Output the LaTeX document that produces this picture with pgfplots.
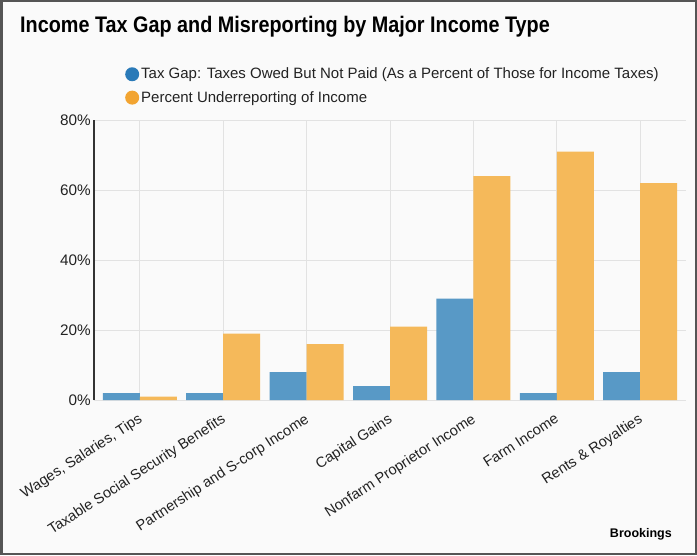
\documentclass[border=0pt]{standalone}
\usepackage{fontspec}
\setmainfont{Liberation Sans}
\newfontfamily\titlefont[FakeStretch=0.88]{Liberation Sans}
\usepackage{pgfplots}
\pgfplotsset{compat=1.18}
\definecolor{bgc}{HTML}{FAFAFA}
\definecolor{framec}{HTML}{555555}
\definecolor{gridc}{HTML}{E2E2E2}
\definecolor{axc}{HTML}{333333}
\definecolor{txtc}{HTML}{222222}
\definecolor{barblue}{HTML}{5899C6}
\definecolor{barorange}{HTML}{F5B95A}
\definecolor{legblue}{HTML}{2A7AB8}
\definecolor{legorange}{HTML}{F2A431}
\begin{document}
\begin{tikzpicture}[x=1pt,y=1pt]
\fill[bgc] (0,0) rectangle (697,555);
\begin{axis}[
  at={(94pt,155pt)}, anchor=south west,
  scale only axis, width=592pt, height=280pt,
  ymin=0, ymax=80, xmin=-0.55, xmax=6.55,
  ybar=0pt, bar width=37pt,
  ytick={0,20,40,60,80}, yticklabels={0\%,20\%,40\%,60\%,80\%},
  xtick={0,...,6},
  xticklabels={{Wages, Salaries, Tips},{Taxable Social Security Benefits},{Partnership and S-corp Income},{Capital Gains},{Nonfarm Proprietor Income},{Farm Income},{Rents \& Royalties}},
  xmajorgrids, ymajorgrids, grid style={draw=gridc, line width=0.8pt},
  axis lines*=left,
  x axis line style={draw=none},
  y axis line style={draw=axc, line width=1.6pt},
  major tick length=0pt,
  tick label style={font=\fontsize{15.3}{17}\selectfont, text=txtc},
  xticklabel style={font=\fontsize{14.6}{17}\selectfont, rotate=33, anchor=north east, inner sep=2pt, yshift=-7pt, xshift=-7pt},
  yticklabel style={inner sep=3pt},
  legend style={at={(axis description cs:0,1)}, anchor=south west, xshift=28pt, yshift=12pt,
    draw=none, fill=none, font=\fontsize{15}{17}\selectfont, text=txtc, row sep=7pt,
    /tikz/every even column/.append style={column sep=0pt}},
  legend cell align=left,
]
\addplot[fill=barblue, draw=none, legend image code/.code={\fill[legblue] (6pt,0pt) circle (7pt);}]
  coordinates {(0,2) (1,2) (2,8) (3,4) (4,29) (5,2) (6,8)};
\addlegendentry{Tax Gap: Taxes Owed But Not Paid (As a Percent of Those for Income Taxes)}
\addplot[fill=barorange, draw=none, legend image code/.code={\fill[legorange] (6pt,0pt) circle (7pt);}]
  coordinates {(0,1) (1,19) (2,16) (3,21) (4,64) (5,71) (6,62)};
\addlegendentry{Percent Underreporting of Income}
\end{axis}
\node[anchor=base west, font=\titlefont\bfseries\fontsize{22.5}{27}\selectfont, text=black, inner sep=0pt] at (20,522) {Income Tax Gap and Misreporting by Major Income Type};
\node[anchor=base east, font=\bfseries\fontsize{12.5}{15}\selectfont, text=black, inner sep=0pt] at (672,18) {Brookings};
\draw[framec, line width=2.5pt] (1.25,1.25) rectangle (695.75,553.75);
\end{tikzpicture}
\end{document}
